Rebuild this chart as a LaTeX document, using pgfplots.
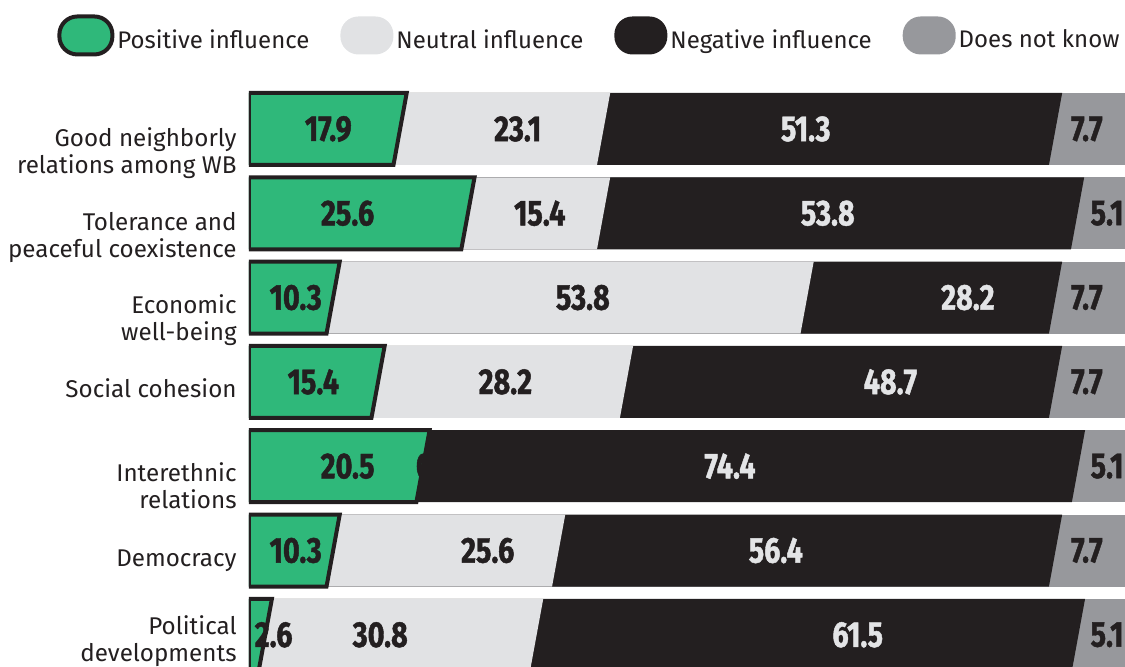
\documentclass[border=0pt]{standalone}
\usepackage{fontspec}
\setmainfont{Fira Sans}
\newfontfamily\valfont{Fira Sans}[BoldFeatures={FakeStretch=0.8, FakeBold=1.2}]
\usepackage{pgfplots}
\usepackage{pgfplotstable}
\pgfplotsset{compat=1.18}

\definecolor{ink}{HTML}{231F20}
\definecolor{posgreen}{HTML}{2FB87A}
\definecolor{neutralgrey}{HTML}{E1E2E4}
\definecolor{dkgrey}{HTML}{97989C}
\definecolor{lighttext}{HTML}{E3E4E6}

\tikzset{vlab/.style={font=\valfont\bfseries\fontsize{18}{18}\selectfont, inner sep=0pt, anchor=center}}

% shares per topic (percent) and the x position of each value label
\pgfplotstableread{
pos  neu  neg  dnk  lpos lneu lneg ldnk
17.9 23.1 51.3 7.7  9.0  30.5 63.2 95.1
25.6 15.4 53.8 5.1  11.2 33.0 65.7 97.4
10.3 53.8 28.2 7.7  5.3  37.9 81.6 95.1
15.4 28.2 48.7 7.7  7.3  29.1 72.8 95.1
20.5 0.0  74.4 5.1  11.2 21.2 54.6 97.4
10.3 25.6 56.4 7.7  5.3  27.1 59.8 95.1
2.6  30.8 61.5 5.1  2.8  14.9 69.1 97.4
}\shares

\begin{document}
\begin{tikzpicture}
\useasboundingbox (0,0) rectangle (562.5pt,333pt);
\begin{axis}[
  at={(124.5pt,0pt)}, anchor=south west,
  scale only axis, width=438pt, height=293pt,
  xmin=0, xmax=99.43, ymin=-6.370, ymax=0.581,
  axis line style={draw=none}, tick style={draw=none},
  major tick length=0pt,
  xtick=\empty,
  ytick={-6.075,-5.119,-4.235,-3.078,-2.266,-1.287,-0.285},
  yticklabels={Political\\developments, Democracy, Interethnic\\relations,
    Social cohesion, Economic\\well-being, Tolerance and\\peaceful coexistence,
    Good neighborly\\relations among WB},
  yticklabel style={align=right, anchor=east, inner sep=0pt, xshift=-6pt,
    font=\fontsize{12.1}{13.5}\selectfont, text=ink},
  legend columns=4,
  legend style={at={(-0.2192,1.1125)}, anchor=north west, draw=none, fill=none,
    inner sep=0pt, font=\fontsize{12}{13.5}\selectfont, text=ink,
    nodes={inner sep=0pt},
    /tikz/every odd column/.append style={column sep=1.5pt},
    /tikz/every even column/.append style={column sep=15.5pt}},
  legend image code/.code={\path[#1, draw=none, rounded corners=9pt] (0pt,-7pt) rectangle (26.5pt,12pt);},
  pill outline/.style={postaction={draw=ink, line width=2pt}},
]
\addlegendimage{fill=posgreen, pill outline}
\addlegendentry{Positive influence}
\addlegendimage{fill=neutralgrey}
\addlegendentry{Neutral influence}
\addlegendimage{fill=ink}
\addlegendentry{Negative influence}
\addlegendimage{fill=dkgrey}
\addlegendentry{Does not know}

\pgfplotsforeachungrouped \i in {0,...,6}{%
  \pgfplotstablegetelem{\i}{pos}\of\shares \let\vp\pgfplotsretval
  \pgfplotstablegetelem{\i}{neu}\of\shares \let\vn\pgfplotsretval
  \pgfplotstablegetelem{\i}{neg}\of\shares \let\vg\pgfplotsretval
  \pgfplotstablegetelem{\i}{dnk}\of\shares \let\vd\pgfplotsretval
  \pgfplotstablegetelem{\i}{lpos}\of\shares \let\lp\pgfplotsretval
  \pgfplotstablegetelem{\i}{lneu}\of\shares \let\ln\pgfplotsretval
  \pgfplotstablegetelem{\i}{lneg}\of\shares \let\lg\pgfplotsretval
  \pgfplotstablegetelem{\i}{ldnk}\of\shares \let\ld\pgfplotsretval
  \pgfmathsetmacro\yc{-\i}
  \pgfmathsetmacro\yt{\yc+0.427}
  \pgfmathsetmacro\yb{\yc-0.427}
  % cumulative right edges; the lower corner of each edge leans 1.5 units left
  \pgfmathsetmacro\ca{\vp}
  \pgfmathsetmacro\cb{\vp+\vn}
  \pgfmathsetmacro\cc{\vp+\vn+\vg}
  \pgfmathsetmacro\cd{\vp+\vn+\vg+\vd}
  \pgfmathsetmacro\sa{\ca-1.5}
  \pgfmathsetmacro\sb{\cb-1.5}
  \pgfmathsetmacro\sc{\cc-1.5}
  \edef\drawrow{%
    \noexpand\addplot[fill=dkgrey, draw=none, forget plot]
      coordinates {(0,\yb) (0,\yt) (\cd,\yt) (\cd,\yb)} -- cycle;
    \noexpand\addplot[fill=ink, draw=none, forget plot]
      coordinates {(0,\yb) (0,\yt) (\cc,\yt) (\sc,\yb)} -- cycle;
    \noexpand\addplot[fill=neutralgrey, draw=none, forget plot]
      coordinates {(0,\yb) (0,\yt) (\cb,\yt) (\sb,\yb)} -- cycle;
    \noexpand\addplot[fill=posgreen, draw=ink, line width=2pt, line join=miter, forget plot]
      coordinates {(0,\yb) (0,\yt) (\ca,\yt) (\sa,\yb)} -- cycle;
    \noexpand\node[vlab, text=ink] at (axis cs:\lp,\yc) {\vp};
    \noexpand\node[vlab, text=ink] at (axis cs:\ln,\yc) {\vn};
    \noexpand\node[vlab, text=lighttext] at (axis cs:\lg,\yc) {\vg};
    \noexpand\node[vlab, text=ink] at (axis cs:\ld,\yc) {\vd};
  }%
  \drawrow
}
\end{axis}
\end{tikzpicture}
\end{document}
